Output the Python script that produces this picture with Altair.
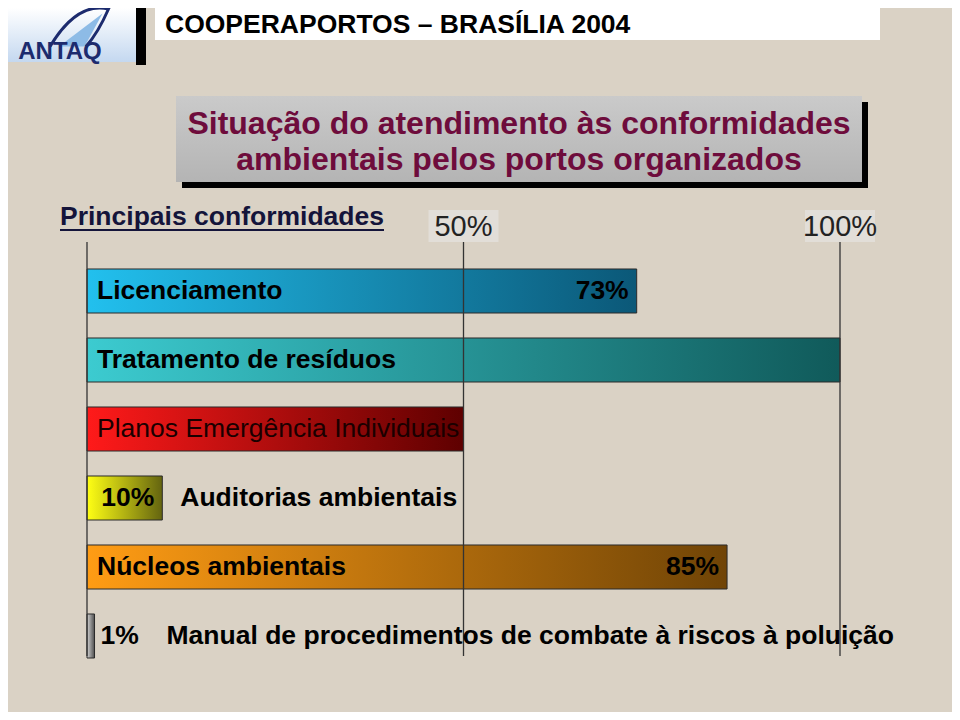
import altair as alt
import pandas as pd

# ---------------- data ----------------
categories = [
    "Licenciamento",
    "Tratamento de resíduos",
    "Planos Emergência Individuais",
    "Auditorias ambientais",
    "Núcleos ambientais",
    "Manual de procedimentos de combate à riscos à poluição",
]
values = [73, 100, 50, 10, 85, 1]
value_labels = ["73%", "", "", "10%", "85%", "1%"]
tick_values = [50, 100]
tick_labels = ["50%", "100%"]
guide_lines = [0, 50, 100]

header_text = "COOPERAPORTOS – BRASÍLIA 2004"
title_lines = ["Situação do atendimento às conformidades",
               "ambientais pelos portos organizados"]
subtitle = "Principais conformidades"
logo_text = "ANTAQ"

# ---------------- styles ----------------
bar_gradients = [("#22c0ee", "#0b5878"), ("#3ccbd0", "#105a5a"), ("#ff1a1a", "#5e0000"),
                 ("#ffff14", "#646410"), ("#ff9c14", "#704406"), ("#d4d4d4", "#4e4e4e")]
cat_label_place = ["inside", "inside", "inside", "after", "inside", "after"]
cat_label_weight = ["bold", "bold", "normal", "bold", "bold", "bold"]
cat_label_color = ["#000000", "#000000", "#1a0000", "#000000", "#000000", "#000000"]
cat_label_dx = [10, 10, 10, 18, 10, 72]
val_label_place = ["inside", None, None, "inside", "inside", "after"]

FONT = "Liberation Sans, Arial, sans-serif"
NARROW = "Liberation Sans Narrow, Arial Narrow, Liberation Sans, sans-serif"
BG = "#dad2c5"
LABEL_SIZE = 26.5

rows = pd.DataFrame({
    "idx": list(range(len(categories))),
    "category": categories,
    "value": values,
    "vlabel": value_labels,
})
rows["zero"] = 0
ticks_df = pd.DataFrame({"tick": tick_values, "tlabel": tick_labels})
guides_df = pd.DataFrame({"g": guide_lines})
one = alt.Data(values=[{"a": 1}])

xscale = alt.Scale(domain=[0, 100], range=[79, 832], nice=False)
yscale = alt.Scale(domain=categories, range=[248.5, 662.5],
                   paddingInner=0.362, paddingOuter=0.181)
Y = alt.Y("category:N", scale=yscale, axis=None)


def grad(c0, c1, vertical=False):
    return alt.Gradient(
        gradient="linear",
        stops=[alt.GradientStop(offset=0, color=c0), alt.GradientStop(offset=1, color=c1)],
        x1=0, y1=0, x2=0 if vertical else 1, y2=1 if vertical else 0,
    )


def box(x, x2, y, y2, fill, **kw):
    return alt.Chart(one).mark_rect(fill=fill, **kw).encode(
        x=alt.value(x), x2=alt.value(x2), y=alt.value(y), y2=alt.value(y2))


def label(text, x, y, **kw):
    return alt.Chart(one).mark_text(text=text, **kw).encode(x=alt.value(x), y=alt.value(y))


layers = []

# ---- header: logo ----
layers.append(box(128, 138, 0, 57, "#000000"))
layers.append(box(0, 128, 0, 54, grad("#ffffff", "#c4d8f0", vertical=True)))
layers.append(alt.Chart(one).mark_point(
    shape="M-0.7,0.55 L0.75,-0.55 L0.15,0.55 Z", filled=True, fill="#8dbbe6",
    stroke=None, size=3600, opacity=1).encode(x=alt.value(72), y=alt.value(22)))
layers.append(alt.Chart(one).mark_point(
    shape="M-1,0.55 Q-0.1,-0.95 0.95,-0.7 Q0.6,0.1 0.2,0.55", filled=False,
    stroke="#1c2b6e", strokeWidth=3, size=3600, opacity=1).encode(x=alt.value(72), y=alt.value(22)))
layers.append(label(logo_text, 52, 44, font=FONT, fontSize=24, fontWeight="bold",
                    color="#1c2b6e", align="center", baseline="middle"))

# ---- header: white banner ----
layers.append(box(147, 872, 0, 32, "#ffffff"))
layers.append(label(header_text, 157, 17, font=FONT, fontSize=26.5, fontWeight="bold",
                    color="#000000", align="left", baseline="middle"))

# ---- title box ----
layers.append(box(174, 860, 94, 180, "#000000"))
layers.append(box(168, 854, 88, 174, grad("#cacaca", "#b4b4b4", vertical=True)))
layers.append(label(title_lines[0], 511, 116, font=NARROW, fontSize=32, fontWeight="bold",
                    color="#6e0c3c", align="center", baseline="middle"))
layers.append(label(title_lines[1], 511, 152, font=NARROW, fontSize=32, fontWeight="bold",
                    color="#6e0c3c", align="center", baseline="middle"))

# ---- subtitle (underlined) ----
layers.append(label(subtitle, 52, 217, font=FONT, fontSize=26.5, fontWeight="bold",
                    color="#14143a", align="left", baseline="alphabetic"))
layers.append(alt.Chart(one).mark_rule(color="#14143a", strokeWidth=2).encode(
    x=alt.value(52), x2=alt.value(376), y=alt.value(222)))

# ---- tick labels at top ----
layers.append(alt.Chart(ticks_df).mark_point(
    shape="M-1,-0.46 L1,-0.46 L1,0.46 L-1,0.46 Z", filled=True, fill="#e2ded8",
    stroke=None, size=4900, opacity=1).encode(
    x=alt.X("tick:Q", scale=xscale, axis=None), y=alt.value(218)))
layers.append(alt.Chart(ticks_df).mark_text(
    font=FONT, fontSize=29, color="#222222", align="center", baseline="middle").encode(
    x=alt.X("tick:Q", scale=xscale, axis=None), y=alt.value(219), text="tlabel:N"))

# ---- bars ----
for i in range(len(categories)):
    c0, c1 = bar_gradients[i]
    layers.append(alt.Chart(rows).transform_filter(alt.datum.idx == i).mark_bar(
        fill=grad(c0, c1), stroke="#2a2a2a", strokeWidth=1).encode(
        x=alt.X("value:Q", scale=xscale, axis=None), y=Y))

# ---- guide lines (drawn over bars) ----
layers.append(alt.Chart(guides_df).mark_rule(color="#333333", strokeWidth=1.3).encode(
    x=alt.X("g:Q", scale=xscale, axis=None), y=alt.value(234), y2=alt.value(648)))

# ---- bar texts ----
for i in range(len(categories)):
    base = alt.Chart(rows).transform_filter(alt.datum.idx == i)
    xfield = "zero:Q" if cat_label_place[i] == "inside" else "value:Q"
    layers.append(base.mark_text(
        font=FONT, fontSize=LABEL_SIZE, fontWeight=cat_label_weight[i], color=cat_label_color[i],
        align="left", baseline="middle", dx=cat_label_dx[i]).encode(
        x=alt.X(xfield, scale=xscale, axis=None), y=Y, text="category:N"))
    if val_label_place[i] == "inside":
        layers.append(base.mark_text(
            font=FONT, fontSize=LABEL_SIZE, fontWeight="bold", color="#000000",
            align="right", baseline="middle", dx=-8).encode(
            x=alt.X("value:Q", scale=xscale, axis=None), y=Y, text="vlabel:N"))
    elif val_label_place[i] == "after":
        layers.append(base.mark_text(
            font=FONT, fontSize=LABEL_SIZE, fontWeight="bold", color="#000000",
            align="left", baseline="middle", dx=6).encode(
            x=alt.X("value:Q", scale=xscale, axis=None), y=Y, text="vlabel:N"))

chart = alt.layer(*layers).properties(
    width=944, height=704, padding=0,
    autosize=alt.AutoSizeParams(type="none"),
    background=BG,
).configure_view(stroke=None)

chart.save("out.html", embed_options={"renderer": "svg", "actions": False})
